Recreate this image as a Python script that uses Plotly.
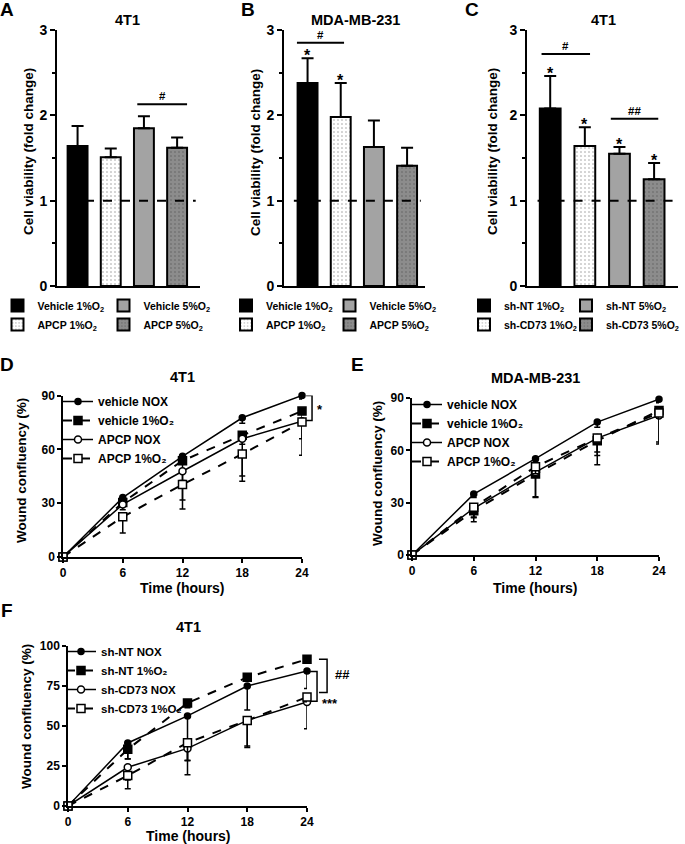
import plotly.graph_objects as go

W, H = 685, 844
FONT = "Liberation Sans"

# ---- bar panels (A, B, C): cell viability, fold change ----
bar_names_a = ["Vehicle 1%O<sub>2</sub>", "APCP 1%O<sub>2</sub>", "Vehicle 5%O<sub>2</sub>", "APCP 5%O<sub>2</sub>"]
bar_names_c = ["sh-NT 1%O<sub>2</sub>", "sh-CD73 1%O<sub>2</sub>", "sh-NT 5%O<sub>2</sub>", "sh-CD73 5%O<sub>2</sub>"]

via_a = [1.64, 1.51, 1.85, 1.62]
via_a_err = [0.235, 0.10, 0.14, 0.12]
via_b = [2.38, 1.98, 1.63, 1.41]
via_b_err = [0.29, 0.40, 0.31, 0.21]
via_c = [2.08, 1.64, 1.55, 1.25]
via_c_err = [0.38, 0.22, 0.08, 0.19]

# ---- wound healing panels (D, E, F) ----
hours = [0, 6, 12, 18, 24]

d_names = ["vehicle NOX", "vehicle 1%O₂", "APCP NOX", "APCP 1%O₂"]
d_veh_nox = [0, 33.1, 56.1, 77.6, 90.0]
d_veh_1 = [0, 30.4, 53.7, 67.8, 81.3]
d_apcp_nox = [0, 29.3, 47.8, 65.9, 75.7]
d_apcp_1 = [0, 22.4, 40.4, 57.4, 75.2]
d_veh_nox_err = [0, 1.5, 2, 3, 2]
d_veh_1_err = [0, 2, 11, 5, 6]
d_apcp_nox_err = [0, 3, 16, 20.7, 9.8]
d_apcp_1_err = [0, 9, 13.7, 15.2, 18.5]

e_veh_nox = [0, 34.9, 55.2, 76.2, 89.3]
e_veh_1 = [0, 25.3, 46.4, 65.5, 82.9]
e_apcp_nox = [0, 26.8, 47.5, 67.0, 80.0]
e_apcp_1 = [0, 27.4, 50.6, 67.0, 81.4]
e_veh_nox_err = [0, 2, 2, 3, 2]
e_veh_1_err = [0, 6.3, 13, 13.8, 19.3]
e_apcp_nox_err = [0, 5, 14.6, 8, 15.2]
e_apcp_1_err = [0, 6, 4, 10, 3]

f_names = ["sh-NT NOX", "sh-NT 1%O₂", "sh-CD73 NOX", "sh-CD73 1%O₂"]
f_nt_nox = [0, 39.4, 56.3, 75.0, 84.4]
f_nt_1 = [0, 35.4, 64.4, 80.4, 91.7]
f_cd_nox = [0, 24.2, 36.0, 53.5, 65.0]
f_cd_1 = [0, 19.0, 39.6, 53.5, 68.1]
f_nt_nox_err = [0, 9.8, 28, 15, 11]
f_nt_1_err = [0, 6, 3, 2, 2]
f_cd_nox_err = [0, 8, 16.4, 17, 16.7]
f_cd_1_err = [0, 8.2, 11, 16, 3]


def px(x):
    return x / W


def py(y):
    return 1 - y / H


bar_styles = [
    dict(color="black", pattern=None),
    dict(color="white", pattern=dict(shape=".", fgcolor="#333", bgcolor="white", size=4, solidity=0.12)),
    dict(color="#a3a3a3", pattern=None),
    dict(color="#8c8c8c", pattern=dict(shape=".", fgcolor="#333", bgcolor="#8c8c8c", size=4, solidity=0.12)),
]

fig = go.Figure()


def add_bars(ax, vals, errs, names, legends):
    for i, (v, e, n) in enumerate(zip(vals, errs, names)):
        st = bar_styles[i]
        marker = dict(color=st["color"], line=dict(color="black", width=2))
        if st["pattern"]:
            marker["pattern"] = st["pattern"]
        fig.add_trace(go.Bar(
            x=[i], y=[v], width=0.6, name=n, marker=marker,
            error_y=dict(type="data", array=[e], arrayminus=[0], symmetric=False,
                         color="black", thickness=2, width=6),
            xaxis="x" + ax, yaxis="y" + ax, legend=legends[i // 2],
        ))


add_bars("", via_a, via_a_err, bar_names_a, ["legend", "legend2"])
add_bars("2", via_b, via_b_err, bar_names_a, ["legend3", "legend4"])
add_bars("3", via_c, via_c_err, bar_names_c, ["legend5", "legend6"])


def add_lines(ax, series, errs, names, leg):
    specs = [
        dict(dash="solid", width=1.5, symbol="circle", size=6, fill="black"),
        dict(dash="dash", width=2, symbol="square", size=8, fill="black"),
        dict(dash="solid", width=1.5, symbol="circle", size=7, fill="white"),
        dict(dash="dash", width=2, symbol="square", size=8, fill="white"),
    ]
    for s, e, n, sp in zip(series, errs, names, specs):
        fig.add_trace(go.Scatter(
            x=hours, y=s, name=n, mode="lines+markers", cliponaxis=False,
            line=dict(color="black", width=sp["width"], dash=sp["dash"]),
            marker=dict(symbol=sp["symbol"], size=sp["size"], color=sp["fill"],
                        line=dict(color="black", width=1.5)),
            error_y=dict(type="data", array=[0] * len(e), arrayminus=e, symmetric=False,
                         color="black", thickness=1.5, width=3),
            xaxis="x" + ax, yaxis="y" + ax, legend=leg,
        ))


add_lines("4", [d_veh_nox, d_veh_1, d_apcp_nox, d_apcp_1],
          [d_veh_nox_err, d_veh_1_err, d_apcp_nox_err, d_apcp_1_err], d_names, "legend7")
add_lines("5", [e_veh_nox, e_veh_1, e_apcp_nox, e_apcp_1],
          [e_veh_nox_err, e_veh_1_err, e_apcp_nox_err, e_apcp_1_err], d_names, "legend8")
add_lines("6", [f_nt_nox, f_nt_1, f_cd_nox, f_cd_1],
          [f_nt_nox_err, f_nt_1_err, f_cd_nox_err, f_cd_1_err], f_names, "legend9")

tickfont = dict(family=FONT, size=14, color="black", weight="bold")
ltickfont = dict(family=FONT, size=12, color="black", weight="bold")

layout = dict(
    width=W, height=H, margin=dict(l=0, r=0, t=0, b=0, autoexpand=False),
    paper_bgcolor="white", plot_bgcolor="rgba(0,0,0,0)",
    font=dict(family=FONT, color="black", weight="bold"),
    showlegend=True, barmode="overlay",
)


def bar_axes(sfx, xdom, xrange):
    layout["xaxis" + sfx] = dict(
        domain=[px(xdom[0]), px(xdom[1])], range=xrange, anchor="y" + sfx,
        showline=True, linecolor="black", linewidth=2, showticklabels=False,
        ticks="", showgrid=False, zeroline=False,
    )
    layout["yaxis" + sfx] = dict(
        domain=[py(286), py(30)], range=[0, 3], anchor="x" + sfx,
        tickvals=[0, 1, 2, 3], showline=True, linecolor="black", linewidth=2,
        ticks="outside", ticklen=5, tickwidth=2, tickcolor="black", tickfont=tickfont,
        minor=dict(dtick=0.5, ticks="outside", ticklen=3, tickwidth=1.5, tickcolor="black"),
        showgrid=False, zeroline=False,
    )


bar_axes("", (57, 200), [-0.62, 3.69])
bar_axes("2", (284, 425), [-0.71, 3.54])
bar_axes("3", (527, 678), [-0.67, 3.69])


def line_axes(sfx, xdom, ydom, yrange, yticks):
    layout["xaxis" + sfx] = dict(
        domain=[px(xdom[0]), px(xdom[1])], range=[0, 24], anchor="y" + sfx,
        tickvals=hours, showline=True, linecolor="black", linewidth=1.5,
        ticks="outside", ticklen=4, tickwidth=1.5, tickcolor="black", tickfont=ltickfont,
        showgrid=False, zeroline=False,
    )
    layout["yaxis" + sfx] = dict(
        domain=[py(ydom[1]), py(ydom[0])], range=yrange, anchor="x" + sfx,
        tickvals=yticks, showline=True, linecolor="black", linewidth=1.5,
        ticks="outside", ticklen=4, tickwidth=1.5, tickcolor="black", tickfont=ltickfont,
        showgrid=False, zeroline=False,
    )


line_axes("4", (63, 302), (395.5, 557), [0, 90], [0, 30, 60, 90])
line_axes("5", (412, 659), (398, 555), [0, 90], [0, 30, 60, 90])
line_axes("6", (68, 307), (646, 806), [0, 100], [0, 25, 50, 75, 100])

# legends: bar legends are one column each, two rows
legfont = dict(family=FONT, size=10.5, color="black", weight="bold")
bar_leg_x = {"legend": (23.5, 26), "legend2": (129.5, 26), "legend3": (252, 26),
             "legend4": (355.5, 26), "legend5": (492, 28), "legend6": (592, 26)}
for k, (cx, off) in bar_leg_x.items():
    layout[k] = dict(x=px(cx - off), y=py(291), xanchor="left", yanchor="top",
                     orientation="v", bgcolor="rgba(0,0,0,0)", font=legfont,
                     itemwidth=30, tracegroupgap=0)
for k, (lx, ly, fs) in {"legend7": (58, 387, 12), "legend8": (407, 390, 12),
                        "legend9": (61, 637, 11.5)}.items():
    layout[k] = dict(x=px(lx), y=py(ly), xanchor="left", yanchor="top",
                     orientation="v", bgcolor="rgba(0,0,0,0)",
                     font=dict(family=FONT, size=fs, color="black", weight="bold"),
                     itemwidth=30, tracegroupgap=0)

fig.update_layout(**layout)

ann = []


def text(x, y, s, size, **kw):
    ann.append(dict(x=px(x), y=py(y), xref="paper", yref="paper", text=s, showarrow=False,
                    xanchor="center", yanchor="middle",
                    font=dict(family=FONT, size=size, color="black", weight="bold"), **kw))


# panel letters and titles
for lx, ly, s in [(7, 9, "A"), (248, 9, "B"), (472, 9, "C"), (7, 365, "D"), (357, 365, "E"), (7, 610, "F")]:
    text(lx, ly, s, 19)
for tx, ty, s in [(128, 20, "4T1"), (355, 20, "MDA-MB-231"), (603, 20, "4T1"),
                  (182, 377, "4T1"), (535, 378, "MDA-MB-231"), (188, 627, "4T1")]:
    text(tx, ty, s, 14.5)
# axis titles
for tx in (29, 256, 493):
    text(tx, 152, "Cell viability (fold change)", 13.5, textangle=-90)
for tx, ty in [(22, 471), (377, 474), (26, 717)]:
    text(tx, ty, "Wound confluency (%)", 13.5, textangle=-90)
for tx, ty in [(182, 588), (535, 588), (188, 836)]:
    text(tx, ty, "Time (hours)", 14)

shapes = []
# reference line at fold change 1
for sfx in ("", "2", "3"):
    shapes.append(dict(type="line", xref="x" + sfx + " domain", yref="y" + sfx,
                       x0=0.07, x1=0.97, y0=1, y1=1,
                       line=dict(color="black", width=2, dash="dash")))


def sig_line(sfx, x0, x1, y, label):
    xr = "x" + sfx
    yr = "y" + sfx
    shapes.append(dict(type="line", xref=xr, yref=yr, x0=x0, x1=x1, y0=y, y1=y,
                       line=dict(color="black", width=2)))
    ann.append(dict(x=(x0 + x1) / 2, y=y, xref=xr, yref=yr, text=label, showarrow=False,
                    xanchor="center", yanchor="bottom", yshift=0,
                    font=dict(family=FONT, size=11.5, color="black", weight="bold")))


sig_line("", 1.8, 3.3, 2.13, "#")
sig_line("2", -0.32, 1.1, 2.85, "#")
sig_line("3", -0.25, 1.15, 2.72, "#")
sig_line("3", 1.75, 3.12, 1.96, "##")


def stars(sfx, idx, vals, errs):
    for i in idx:
        ann.append(dict(x=i, y=vals[i] + errs[i], xref="x" + sfx, yref="y" + sfx, text="*",
                        showarrow=False, xanchor="center", yanchor="bottom", yshift=-8,
                        font=dict(family=FONT, size=16, color="black", weight="bold")))


stars("2", [0, 1], via_b, via_b_err)
stars("3", [0, 1, 2, 3], via_c, via_c_err)


def bracket(sfx, x0, x1, ytop, ybot, label, lx, ly):
    shapes.append(dict(type="path", xref="x" + sfx + " domain", yref="y" + sfx,
                       path=f"M{x0},{ytop} L{x1},{ytop} L{x1},{ybot} L{x0},{ybot}",
                       line=dict(color="black", width=1.5)))
    ann.append(dict(x=lx, y=ly, xref="x" + sfx + " domain", yref="y" + sfx, text=label,
                    showarrow=False, xanchor="left", yanchor="middle",
                    font=dict(family=FONT, size=13, color="black", weight="bold")))


bracket("4", 1.017, 1.042, 90, 76, "*", 1.055, 82)
bracket("6", 1.050, 1.084, 91.7, 71, "##", 1.11, 82)
bracket("6", 1.013, 1.042, 84, 65.4, "***", 1.055, 64)

fig.update_layout(annotations=ann, shapes=shapes)
# the page body has a default 8px margin; drop it so the figure sits at the corner
fig.write_html("out.html", config={"displayModeBar": False},
               post_script="document.body.style.margin='0';")
